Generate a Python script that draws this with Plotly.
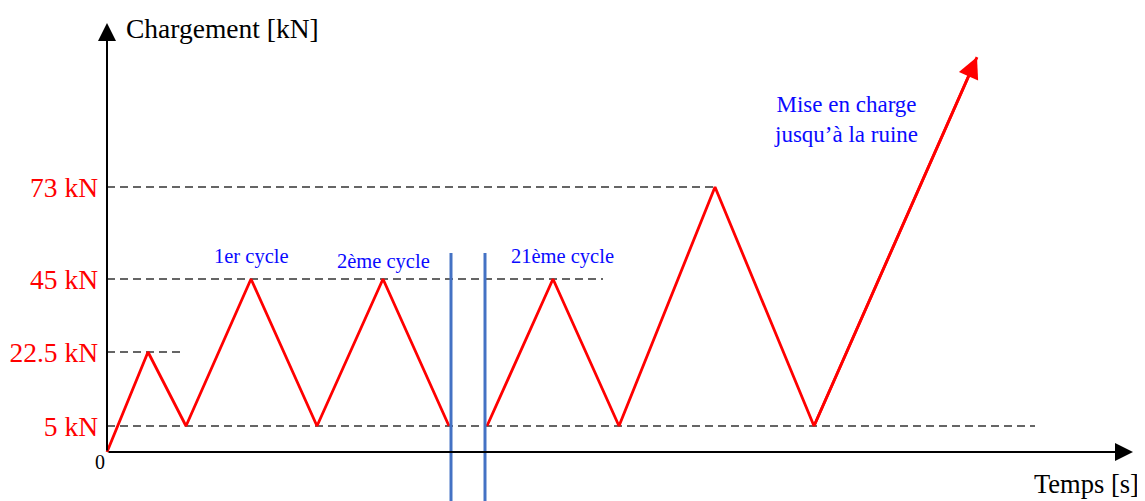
import numpy as np
import plotly.graph_objects as go

# ---- data (schematic loading protocol) ----
# time in schematic units, load in kN
SEG_A_TIME = [0.0, 1.025, 1.975, 3.6, 5.25, 6.9, 8.55]
SEG_A_LOAD = [0, 22.5, 5, 45, 5, 45, 5]
SEG_B_TIME = [9.5, 11.15, 12.8, 15.2, 17.675, 21.75]
SEG_B_LOAD = [5, 45, 5, 73, 5, 112.5]

LEVELS = [5, 22.5, 45, 73]
LEVEL_LABELS = ["5 kN", "22.5 kN", "45 kN", "73 kN"]
LEVEL_LINE_END = [23.2, 1.95, 12.4, 15.2]   # time where each dashed guide stops

BREAK_TIMES = [8.6, 9.45]
CYCLE_LABELS = ["1er cycle", "2ème cycle", "21ème cycle"]

# schematic (non-linear) load axis: breakpoints load -> axis position
AXIS_LOAD = [0, 5, 22.5, 45, 73, 120]
AXIS_POS = [0, 26, 100, 173, 265, 419.6]


def ymap(v):
    return np.interp(np.asarray(v, dtype=float), AXIS_LOAD, AXIS_POS)


FONT = "Liberation Serif"
RED = "#FF0000"
BLUE_TXT = "#0A0AFF"
BLUE_LINE = "#4472C4"

# page body has an 8px margin: figure is sized to fit the window
OFF = 8
W, H = 1145 - OFF, 501 - OFF
X0 = 107 - OFF      # pixel of time origin inside figure
Y0 = 452 - OFF      # pixel of load origin inside figure
PX_PER_T = 40.0

fig = go.Figure()

fig.add_trace(go.Scatter(x=SEG_A_TIME, y=ymap(SEG_A_LOAD), mode="lines",
                         line=dict(color=RED, width=2.8), hoverinfo="skip"))
fig.add_trace(go.Scatter(x=SEG_B_TIME, y=ymap(SEG_B_LOAD), mode="lines",
                         line=dict(color=RED, width=2.8), hoverinfo="skip"))

shapes = []
for lvl, xe in zip(LEVELS, LEVEL_LINE_END):
    shapes.append(dict(type="line", xref="x", yref="y", x0=0, x1=xe,
                       y0=float(ymap(lvl)), y1=float(ymap(lvl)),
                       line=dict(color="#333333", width=1.3, dash="8px,5px"),
                       layer="below"))
for bt in BREAK_TIMES:
    shapes.append(dict(type="line", xref="x", yref="paper", x0=bt, x1=bt,
                       y0=0, y1=1 - (253 - OFF) / H,
                       line=dict(color=BLUE_LINE, width=3)))

annotations = []
# axes arrows
annotations.append(dict(x=0, y=429, ax=0, ay=0, xref="x", yref="y", axref="x", ayref="y",
                        showarrow=True, arrowhead=2, arrowsize=1.8, arrowwidth=2,
                        arrowcolor="black", text=""))
annotations.append(dict(x=(1133 - 107) / PX_PER_T, y=0, ax=0, ay=0, xref="x", yref="y",
                        axref="x", ayref="y",
                        showarrow=True, arrowhead=2, arrowsize=1.8, arrowwidth=2,
                        arrowcolor="black", text=""))
# red arrowhead at the end of the final ramp
annotations.append(dict(x=SEG_B_TIME[-1], y=float(ymap(SEG_B_LOAD[-1])),
                        ax=SEG_B_TIME[-2], ay=float(ymap(SEG_B_LOAD[-2])),
                        xref="x", yref="y", axref="x", ayref="y",
                        showarrow=True, arrowhead=2, arrowsize=1.5, arrowwidth=2.8,
                        arrowcolor=RED, text=""))


def txt(text, x, y, size, color, xanchor="center"):
    annotations.append(dict(text=text, x=(x - OFF) / W, y=1 - (y - OFF) / H,
                            xref="paper", yref="paper",
                            xanchor=xanchor, yanchor="middle", showarrow=False,
                            font=dict(family=FONT, size=size, color=color)))


txt("Chargement [kN]", 124, 28, 27.5, "black", "left")
txt("Temps [s]", 1141, 484, 26.5, "black", "right")
txt("0", 100, 462, 20, "black")
txt(CYCLE_LABELS[0], 251, 257, 20.5, BLUE_TXT)
txt(CYCLE_LABELS[1], 383, 261, 20.5, BLUE_TXT)
txt(CYCLE_LABELS[2], 562, 257, 20.5, BLUE_TXT)
txt("Mise en charge<br>jusqu’à la ruine", 846, 119, 23, BLUE_TXT)

fig.update_layout(
    width=W, height=H,
    margin=dict(l=0, r=0, t=0, b=0),
    paper_bgcolor="white", plot_bgcolor="white",
    showlegend=False,
    shapes=shapes, annotations=annotations,
    xaxis=dict(range=[-X0 / PX_PER_T, (W - X0) / PX_PER_T], visible=False, fixedrange=True),
    yaxis=dict(range=[-(H - Y0), Y0], anchor="free", position=X0 / W,
               tickvals=[float(v) for v in ymap(LEVELS)], ticktext=LEVEL_LABELS,
               tickfont=dict(family=FONT, size=27.5, color=RED),
               ticklabelstandoff=9,
               showgrid=False, zeroline=False, showline=False, ticks="",
               fixedrange=True),
)

fig.write_html("out.html")
